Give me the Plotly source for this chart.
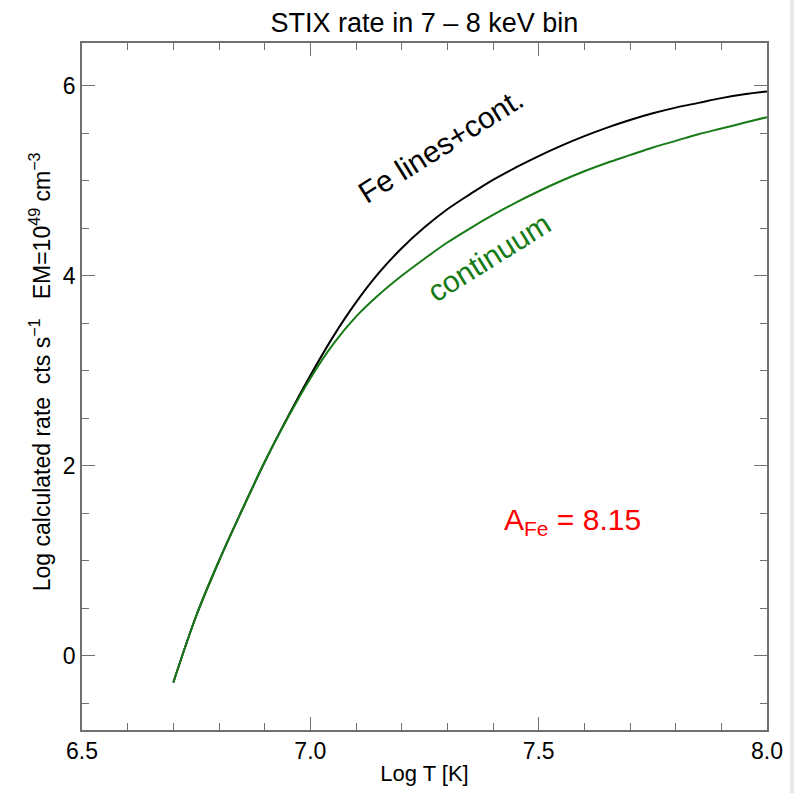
import plotly.graph_objects as go

logT = [6.70, 6.75, 6.80, 6.85, 6.90, 6.95, 7.00, 7.05, 7.10, 7.15, 7.20, 7.25, 7.30,
        7.35, 7.40, 7.45, 7.50, 7.55, 7.60, 7.65, 7.70, 7.75, 7.80, 7.85, 7.90, 7.95, 8.00]
fe_lines_cont = [-0.28, 0.42, 1.00, 1.53, 2.04, 2.51, 2.95, 3.36, 3.72, 4.03, 4.29, 4.51, 4.70,
                 4.86, 5.01, 5.14, 5.26, 5.37, 5.47, 5.56, 5.64, 5.71, 5.77, 5.82, 5.87, 5.91, 5.94]
continuum = [-0.28, 0.42, 1.00, 1.53, 2.04, 2.50, 2.92, 3.28, 3.57, 3.80, 4.00, 4.18, 4.35,
             4.50, 4.64, 4.77, 4.89, 5.00, 5.10, 5.19, 5.27, 5.35, 5.42, 5.49, 5.55, 5.61, 5.67]

FONT = "Liberation Sans, Arial, Helvetica, sans-serif"
GREEN = "#167a16"
AXC = "#707070"

fig = go.Figure()
fig.add_trace(go.Scatter(x=logT, y=fe_lines_cont, mode="lines", line=dict(color="black", width=2, shape="spline"),
                         showlegend=False, hoverinfo="skip"))
fig.add_trace(go.Scatter(x=logT, y=continuum, mode="lines", line=dict(color=GREEN, width=2, shape="spline"),
                         showlegend=False, hoverinfo="skip"))

axis_common = dict(showline=True, linecolor=AXC, linewidth=1.5, mirror="allticks", ticks="inside",
                   tickcolor=AXC, tickwidth=1.2, ticklen=13, showgrid=False, zeroline=False,
                   tickfont=dict(family=FONT, size=23, color="black"))

fig.update_xaxes(range=[6.5, 8.0], tickvals=[6.5, 7.0, 7.5, 8.0], ticktext=["6.5", "7.0", "7.5", "8.0"],
                 minor=dict(ticks="inside", ticklen=7, dtick=0.1, tick0=6.5, tickcolor=AXC, tickwidth=1.2, showgrid=False),
                 title=dict(text="Log T [K]", font=dict(family=FONT, size=22, color="black"), standoff=2),
                 **axis_common)
fig.update_yaxes(range=[-0.78, 6.45], tickvals=[0, 2, 4, 6],
                 minor=dict(ticks="inside", ticklen=7, dtick=0.5, tick0=0, tickcolor=AXC, tickwidth=1.2, showgrid=False),
                 **axis_common)

NB = "\u00a0"
ytitle = ("Log calculated rate" + NB + NB + "cts s<sup>\u22121</sup>" + NB + NB + NB +
          "EM=10<sup>49</sup> cm<sup>\u22123</sup>")
fig.add_annotation(text=ytitle, xref="paper", yref="paper", x=-0.061, y=0.521, xanchor="center", yanchor="middle",
                   textangle=-90, showarrow=False, font=dict(family=FONT, size=23, color="black"))
fig.add_annotation(text="Fe lines+cont.", x=7.286, y=5.37, textangle=-32, showarrow=False,
                   font=dict(family=FONT, size=30, color="black"))
fig.add_annotation(text="continuum", x=7.391, y=4.19, textangle=-32, showarrow=False,
                   font=dict(family=FONT, size=30, color=GREEN))
fig.add_annotation(text="A<sub>Fe</sub> = 8.15", x=7.573, y=1.41, showarrow=False,
                   font=dict(family=FONT, size=30, color="red"))

fig.add_shape(type="rect", xref="paper", yref="paper", x0=1.0336, x1=1.0394, y0=-0.2, y1=1.2,
              line=dict(width=0), fillcolor="#e8e8e8", layer="below")

fig.update_layout(
    width=810, height=793,
    margin=dict(l=82, r=43, t=43, b=63),
    paper_bgcolor="white", plot_bgcolor="white",
    title=dict(text="STIX rate in 7 \u2013 8 keV bin", x=0.524, xanchor="center", y=0.972, yanchor="middle",
               font=dict(family=FONT, size=27, color="black")),
    font=dict(family=FONT),
)

fig.write_html("out.html")
